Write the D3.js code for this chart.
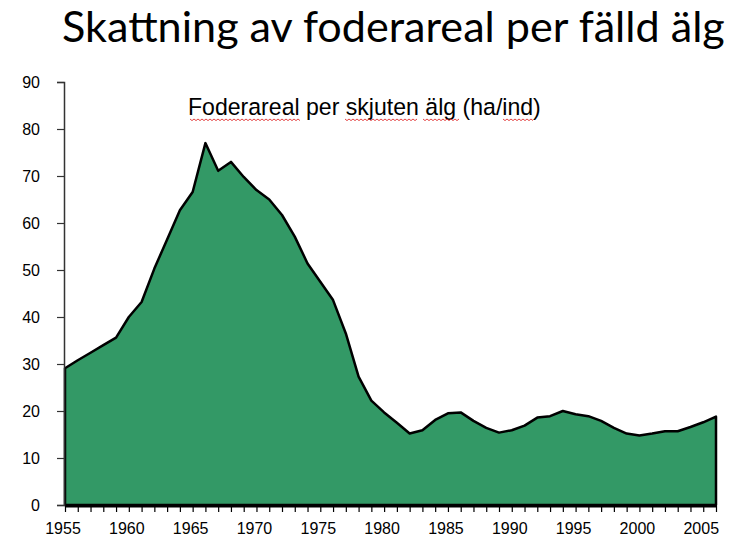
<!DOCTYPE html>
<html>
<head>
<meta charset="utf-8">
<script src="https://cdn.jsdelivr.net/npm/d3@7"></script>
<style>
  body { margin: 0; background: #fff; }
  svg { display: block; }
</style>
</head>
<body>
<div id="chart"></div>
<script>
// Data
var years = [1955, 1956, 1957, 1958, 1959, 1960, 1961, 1962, 1963, 1964,
             1965, 1966, 1967, 1968, 1969, 1970, 1971, 1972, 1973, 1974,
             1975, 1976, 1977, 1978, 1979, 1980, 1981, 1982, 1983, 1984,
             1985, 1986, 1987, 1988, 1989, 1990, 1991, 1992, 1993, 1994,
             1995, 1996, 1997, 1998, 1999, 2000, 2001, 2002, 2003, 2004,
             2005, 2006];
var areaPerMoose = [29.1, 30.8, 32.4, 34.0, 35.6, 40.0, 43.2, 50.3, 56.5, 62.7,
                    66.6, 77.0, 71.1, 73.0, 69.8, 67.0, 65.0, 61.7, 57.1, 51.4,
                    47.5, 43.6, 36.5, 27.3, 22.2, 19.7, 17.5, 15.2, 15.9, 18.1,
                    19.5, 19.7, 17.9, 16.4, 15.4, 15.9, 16.9, 18.6, 18.9, 20.0,
                    19.3, 18.9, 17.9, 16.4, 15.2, 14.8, 15.2, 15.7, 15.7, 16.6,
                    17.6, 18.8];
var yTicks = [0, 10, 20, 30, 40, 50, 60, 70, 80, 90];
var xLabelYears = [1955, 1960, 1965, 1970, 1975, 1980, 1985, 1990, 1995, 2000, 2005];

var title = "Skattning av foderareal per fälld älg";
var seriesLabel = "Foderareal per skjuten älg (ha/ind)";

var svgWidth = 744;
var svgHeight = 541;

var svg = d3.select("#chart")
    .append("svg")
    .attr("width", svgWidth)
    .attr("height", svgHeight);

var data = years.map(function (yr, i) {
    return { year: yr, value: areaPerMoose[i] };
});

// scales
var xScale = d3.scaleLinear().domain([1955, 2006]).range([65, 716]);
var yScale = d3.scaleLinear().domain([0, 90]).range([505, 82]);

// title
var titleText = svg.append("text")
    .attr("x", 62)
    .attr("y", 42)
    .attr("font-family", "Lato, 'Open Sans', sans-serif")
    .attr("font-size", 42)
    .attr("fill", "#000")
    .text(title);
// fit title to the width in the picture
var tw = titleText.node().getComputedTextLength();
titleText.attr("font-size", 42 * 663 / tw);

// area
var area = d3.area()
    .x(d => xScale(d.year))
    .y0(yScale(0))
    .y1(d => yScale(d.value));

svg.append("path")
    .datum(data)
    .attr("d", area)
    .attr("fill", "#339966")
    .attr("stroke", "#000")
    .attr("stroke-width", 2.5)
    .attr("stroke-linejoin", "round");

// y axis
var yAxis = d3.axisLeft(yScale)
    .tickValues(yTicks)
    .tickSize(7)
    .tickPadding(17)
    .tickFormat(d3.format("d"));

var yG = svg.append("g")
    .attr("transform", "translate(64,0)")
    .call(yAxis);
yG.select(".domain").attr("stroke", "#333").attr("stroke-width", 1.5);
yG.selectAll(".tick line").attr("stroke", "#333").attr("stroke-width", 1.2);
yG.selectAll("text")
    .attr("font-family", "Arial, 'Liberation Sans', sans-serif")
    .attr("font-size", 16)
    .attr("fill", "#000");

// x axis, a tick each year
var xAxis = d3.axisBottom(xScale)
    .tickValues(years)
    .tickSize(6)
    .tickSizeOuter(0)
    .tickFormat(d => xLabelYears.indexOf(d) >= 0 ? d : "");

var xG = svg.append("g")
    .attr("transform", "translate(0,506)")
    .call(xAxis);
xG.select(".domain").attr("stroke", "#000").attr("stroke-width", 2);
xG.selectAll(".tick line").attr("stroke", "#000").attr("stroke-width", 1.2);
xG.selectAll("text")
    .attr("font-family", "Arial, 'Liberation Sans', sans-serif")
    .attr("font-size", 16)
    .attr("fill", "#000")
    .attr("dx", -2.5)
    .attr("dy", "1.2em");

// series label
var label = svg.append("text")
    .attr("x", 188)
    .attr("y", 115)
    .attr("font-family", "Arial, 'Liberation Sans', sans-serif")
    .attr("font-size", 18)
    .attr("fill", "#000")
    .text(seriesLabel);
var lw = label.node().getComputedTextLength();
label.attr("font-size", 18 * 353 / lw);

// red spell-check squiggles under some words
var squiggles = [[190, 300], [345, 417], [423, 460], [503, 533]];
squiggles.forEach(function (s) {
    var pts = [];
    for (var x = s[0], k = 0; x <= s[1]; x += 2, k++) {
        pts.push([x, 119 + (k % 2 === 0 ? 0 : 1.6)]);
    }
    svg.append("path")
        .attr("d", d3.line()(pts))
        .attr("fill", "none")
        .attr("stroke", "#e03030")
        .attr("stroke-width", 0.9);
});
</script>
</body>
</html>
